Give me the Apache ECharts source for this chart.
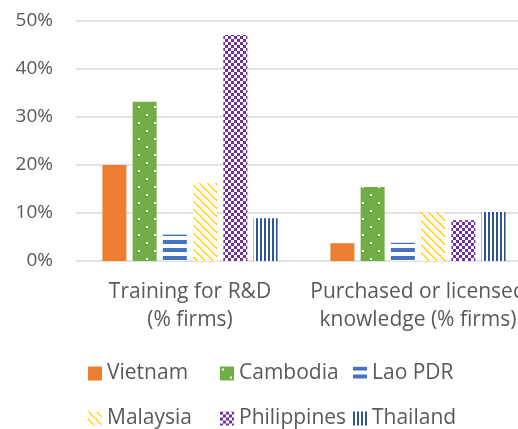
<!DOCTYPE html>
<html><head><meta charset="utf-8">
<script src="https://cdn.jsdelivr.net/npm/echarts@6/dist/echarts.min.js"></script>
<style>html,body{margin:0;padding:0;background:#fff}#c{width:518px;height:429px}</style>
</head><body><div id="c"></div>
<script>
const categories = ['Training for R&D\n(% firms)', 'Purchased or licensed\nknowledge (% firms)'];
const seriesNames = ['Vietnam', 'Cambodia', 'Lao PDR', 'Malaysia', 'Philippines', 'Thailand'];
const vietnam = [20.0, 3.7];
const cambodia = [33.2, 15.4];
const laoPDR = [5.5, 3.8];
const malaysia = [16.2, 10.0];
const philippines = [47.1, 8.5];
const thailand = [8.9, 10.2];
const yTicks = [0, 10, 20, 30, 40, 50];

function tile(w, h, draw) {
  const c = document.createElement('canvas');
  c.width = w; c.height = h;
  const g = c.getContext('2d');
  draw(g);
  return { image: c, repeat: 'repeat' };
}
const pats = [
  '#ED7D31',
  tile(16, 16, g => { g.fillStyle = '#70AD47'; g.fillRect(0,0,16,16); g.fillStyle = '#fff'; g.fillRect(2,2,2,2); g.fillRect(10,10,2,2); }),
  tile(8, 8, g => { g.fillStyle = '#fff'; g.fillRect(0,0,8,8); g.fillStyle = '#4472C4'; g.fillRect(0,0,8,4); }),
  tile(8, 8, g => { g.fillStyle = '#fff'; g.fillRect(0,0,8,8); g.fillStyle = '#FFC000';
    for (let y = 0; y < 8; y++) { for (let d = 0; d < 2; d++) { if ((y + d) % 2 === 0 || d === 0) g.fillRect((y + d) % 8, y, 1, 1); } } }),
  tile(6, 6, g => { g.fillStyle = '#fff'; g.fillRect(0,0,6,6); g.fillStyle = '#7030A0'; g.fillRect(0,0,3,3); g.fillRect(3,3,3,3); }),
  tile(4, 4, g => { g.fillStyle = '#fff'; g.fillRect(0,0,4,4); g.fillStyle = '#2F5597'; g.fillRect(0,0,2,4); })
];
const dataArr = [vietnam, cambodia, laoPDR, malaysia, philippines, thailand];
const font = '"Open Sans", sans-serif';
const legendPos = [[88,363],[220,363],[353,363],[88,408],[220,408],[353,408]];
const chart = echarts.init(document.getElementById('c'));
chart.setOption({
  animation: false,
  grid: { left: 76, width: 456, top: 21, bottom: 168, outerBoundsMode: 'none', containLabel: false },
  legend: seriesNames.map((n, i) => ({
    data: [n], left: legendPos[i][0], top: legendPos[i][1], itemWidth: 14, itemHeight: 14, itemGap: 4,
    icon: 'rect', padding: 0,
    textStyle: { fontFamily: font, fontSize: 21, color: '#595959' }
  })),
  xAxis: {
    type: 'category', data: categories,
    axisLine: { show: false }, axisTick: { show: false },
    axisLabel: { fontFamily: font, fontSize: 21, color: '#595959', lineHeight: 28, margin: 17, interval: 0, hideOverlap: false }
  },
  yAxis: {
    type: 'value', min: 0, max: 50, interval: 10,
    axisLabel: { formatter: v => yTicks.includes(v) ? v + '%' : '', fontFamily: font, fontSize: 19, color: '#595959', margin: 23 },
    splitLine: { lineStyle: { color: '#D9D9D9', width: 1.5 } }
  },
  series: seriesNames.map((n, i) => ({
    name: n, type: 'bar', data: dataArr[i], barWidth: 24, barGap: '26%',
    itemStyle: { color: pats[i] }
  }))
});
</script></body></html>
